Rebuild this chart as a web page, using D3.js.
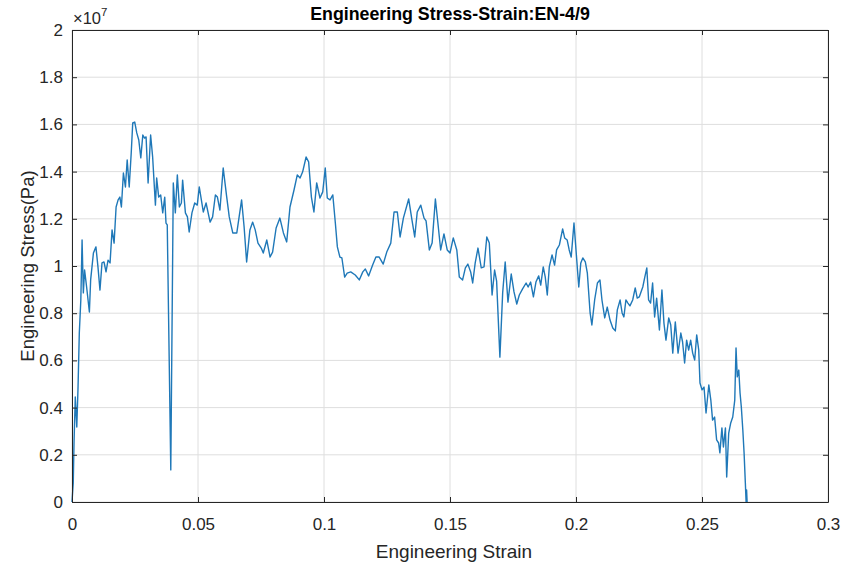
<!DOCTYPE html>
<html>
<head>
<meta charset="utf-8">
<script src="https://cdn.jsdelivr.net/npm/d3@7"></script>
<style>
  html, body { margin: 0; padding: 0; background: #ffffff; }
  svg { display: block; font-family: "Liberation Sans", Arial, Helvetica, sans-serif; }
</style>
</head>
<body>
<svg id="chart" width="857" height="566"></svg>
<script>
// Engineering strain (dimensionless)
const strain = [
  0, 0.0005, 0.0008, 0.0013, 0.0019, 0.0024, 0.0029, 0.0035, 0.0040, 0.0045,
  0.0050, 0.0058, 0.0069, 0.0074, 0.0085, 0.0095, 0.0103, 0.0111, 0.0119, 0.0127,
  0.0135, 0.0143, 0.0151, 0.0159, 0.0167, 0.0175, 0.0183, 0.0190, 0.0196, 0.0204,
  0.0212, 0.0219, 0.0227, 0.0235, 0.0241, 0.0249, 0.0257, 0.0265, 0.0273, 0.0281,
  0.0288, 0.0294, 0.0302, 0.0312, 0.0320, 0.0331, 0.0336, 0.0344, 0.0352, 0.0360,
  0.0368, 0.0373, 0.0378, 0.0392, 0.0402, 0.0410, 0.0418, 0.0426, 0.0434, 0.0439,
  0.0450, 0.0458, 0.0465, 0.0476, 0.0487, 0.0497, 0.0505, 0.0521, 0.0532, 0.0548,
  0.0558, 0.0569, 0.0577, 0.0587, 0.0600, 0.0614, 0.0624, 0.0638, 0.0654, 0.0673,
  0.0683, 0.0693, 0.0706, 0.0717, 0.0727, 0.0738, 0.0751, 0.0759, 0.0773, 0.0786,
  0.0796, 0.0810, 0.0825, 0.0839, 0.0852, 0.0865, 0.0881, 0.0894, 0.0905, 0.0915,
  0.0929, 0.0939, 0.0950, 0.0960, 0.0971, 0.0984, 0.0995, 0.1005, 0.1013, 0.1024,
  0.1035, 0.1045, 0.1053, 0.1063, 0.1071, 0.1082, 0.1092, 0.1106, 0.1124, 0.1140,
  0.1154, 0.1164, 0.1177, 0.1193, 0.1206, 0.1219, 0.1235, 0.1249, 0.1265, 0.1278,
  0.1291, 0.1302, 0.1315, 0.1336, 0.1349, 0.1360, 0.1370, 0.1384, 0.1397, 0.1405,
  0.1418, 0.1429, 0.1442, 0.1452, 0.1463, 0.1476, 0.1489, 0.1500, 0.1513, 0.1527,
  0.1537, 0.1550, 0.1561, 0.1571, 0.1582, 0.1590, 0.1600, 0.1611, 0.1624, 0.1635,
  0.1646, 0.1656, 0.1667, 0.1677, 0.1685, 0.1698, 0.1709, 0.1719, 0.1730, 0.1743,
  0.1754, 0.1765, 0.1775, 0.1788, 0.1802, 0.1810, 0.1820, 0.1831, 0.1841, 0.1852,
  0.1860, 0.1870, 0.1878, 0.1886, 0.1894, 0.1905, 0.1915, 0.1923, 0.1934, 0.1947,
  0.1955, 0.1965, 0.1973, 0.1981, 0.1992, 0.2000, 0.2011, 0.2019, 0.2027, 0.2037,
  0.2045, 0.2056, 0.2063, 0.2074, 0.2085, 0.2095, 0.2103, 0.2114, 0.2124, 0.2135,
  0.2146, 0.2156, 0.2164, 0.2175, 0.2183, 0.2190, 0.2198, 0.2206, 0.2214, 0.2225,
  0.2235, 0.2243, 0.2251, 0.2265, 0.2273, 0.2281, 0.2288, 0.2296, 0.2304, 0.2312,
  0.2320, 0.2331, 0.2341, 0.2349, 0.2357, 0.2368, 0.2376, 0.2384, 0.2394, 0.2405,
  0.2416, 0.2423, 0.2431, 0.2439, 0.2447, 0.2455, 0.2463, 0.2471, 0.2479, 0.2487,
  0.2492, 0.2500, 0.2508, 0.2516, 0.2527, 0.2535, 0.2542, 0.2550, 0.2558, 0.2566,
  0.2571, 0.2579, 0.2585, 0.2593, 0.2598, 0.2606, 0.2614, 0.2622, 0.2630, 0.2635,
  0.2640, 0.2646, 0.2651, 0.2656, 0.2662, 0.2667, 0.2672, 0.2675, 0.2677, 0.2679
];

// Engineering stress in MPa (plotted in Pa)
const stressMPa = [
  0, 0.81, 2.50, 4.45, 3.18, 4.87, 7.16, 8.56, 11.10, 8.86,
  9.83, 9.11, 8.05, 9.41, 10.55, 10.81, 9.96, 8.98, 10.13, 10.17,
  9.75, 10.25, 10.13, 11.53, 10.97, 12.50, 12.80, 12.92, 12.50, 13.94,
  13.35, 14.49, 13.35, 14.79, 16.06, 16.10, 15.64, 15.34, 14.58, 15.55,
  15.42, 15.47, 13.52, 15.55, 14.62, 12.58, 13.73, 12.92, 13.01, 12.25,
  12.92, 11.82, 11.74, 1.36, 13.52, 12.25, 13.86, 12.50, 12.67, 13.64,
  12.25, 12.08, 11.44, 12.25, 12.67, 12.58, 13.35, 12.29, 12.67, 11.86,
  12.08, 13.01, 12.92, 12.37, 14.15, 12.92, 12.08, 11.40, 11.40, 12.80,
  11.65, 10.17, 11.53, 11.86, 11.53, 10.97, 10.76, 10.55, 11.10, 10.38,
  10.59, 11.61, 12.03, 11.40, 11.02, 12.50, 13.22, 13.86, 13.73, 13.98,
  14.62, 14.41, 12.92, 12.29, 13.52, 12.88, 13.14, 14.15, 12.88, 12.80,
  13.01, 11.82, 10.81, 10.38, 10.34, 9.53, 9.70, 9.75, 9.62, 9.41,
  9.75, 9.87, 9.58, 10.04, 10.38, 10.38, 10.08, 10.59, 10.97, 12.29,
  12.29, 11.23, 12.03, 12.84, 11.95, 11.23, 12.29, 12.58, 12.03, 11.91,
  10.68, 10.97, 12.84, 11.82, 10.68, 11.36, 10.68, 10.55, 11.19, 10.68,
  9.53, 9.41, 9.92, 10.08, 9.75, 9.28, 10.13, 10.76, 9.92, 9.96,
  11.23, 10.97, 8.77, 9.83, 9.36, 6.14, 8.86, 10.17, 8.47, 9.66,
  8.90, 8.39, 8.77, 9.03, 9.28, 9.11, 9.32, 8.69, 9.32, 9.58,
  9.19, 9.96, 9.53, 8.77, 9.96, 10.47, 10.04, 10.68, 10.89, 11.57,
  11.19, 11.10, 10.68, 10.38, 11.82, 10.68, 9.11, 10.13, 10.34, 10.17,
  9.70, 8.01, 7.50, 8.56, 9.28, 9.41, 8.56, 7.80, 8.26, 7.71,
  7.37, 7.25, 8.14, 8.56, 8.01, 7.84, 8.56, 8.43, 8.31, 8.56,
  9.07, 8.64, 8.69, 9.11, 9.53, 9.92, 8.56, 8.43, 9.28, 7.84,
  8.64, 7.29, 8.98, 7.58, 6.86, 7.80, 7.50, 6.31, 7.63, 6.31,
  7.16, 6.78, 5.89, 6.86, 6.44, 6.86, 6.31, 6.02, 7.08, 6.44,
  5.04, 4.75, 4.87, 3.77, 4.96, 4.32, 3.47, 3.60, 2.63, 2.50,
  2.08, 3.14, 2.33, 3.14, 1.06, 2.92, 3.35, 3.60, 4.32, 6.53,
  5.30, 5.59, 4.62, 4.03, 3.05, 2.08, 0.81, 0, 0.51, 0
];

const xTicks = [0, 0.05, 0.1, 0.15, 0.2, 0.25, 0.3];
const yTicks = [0, 0.2e7, 0.4e7, 0.6e7, 0.8e7, 1.0e7, 1.2e7, 1.4e7, 1.6e7, 1.8e7, 2.0e7];

const titleText = "Engineering Stress-Strain:EN-4/9";
const xLabelText = "Engineering Strain";
const yLabelText = "Engineering Stress(Pa)";

const points = strain.map((s, i) => ({ strain: s, stress: stressMPa[i] * 1e6 }));

const svg = d3.select("#chart");
const plotLeft = 72, plotRight = 828, plotTop = 30, plotBottom = 502;

const x = d3.scaleLinear().domain([0, 0.3]).range([plotLeft, plotRight]);
const y = d3.scaleLinear().domain([0, 2e7]).range([plotBottom, plotTop]);

const axisColor = "#262626";
const gridColor = "#dedede";
const fontSize = 17;

// grid
const grid = svg.append("g");
grid.selectAll("line.gx").data(xTicks).join("line")
  .attr("x1", d => x(d)).attr("x2", d => x(d))
  .attr("y1", plotTop).attr("y2", plotBottom)
  .attr("stroke", gridColor).attr("stroke-width", 1);
grid.selectAll("line.gy").data(yTicks).join("line")
  .attr("x1", plotLeft).attr("x2", plotRight)
  .attr("y1", d => y(d)).attr("y2", d => y(d))
  .attr("stroke", gridColor).attr("stroke-width", 1);

// data line
const line = d3.line().x(d => x(d.strain)).y(d => y(d.stress));
svg.append("path")
  .datum(points)
  .attr("d", line)
  .attr("fill", "none")
  .attr("stroke", "#1f78b8")
  .attr("stroke-width", 1.4)
  .attr("stroke-linejoin", "round");

// axes with inward ticks
const fmtX = d => d3.format("~g")(d);
const fmtY = d => d3.format("~g")(+(d / 1e7).toFixed(2));

const xAxis = svg.append("g").attr("transform", `translate(0,${plotBottom})`)
  .call(d3.axisBottom(x).tickValues(xTicks).tickFormat(fmtX).tickSizeInner(-5).tickSizeOuter(0).tickPadding(16));
const xAxisTop = svg.append("g").attr("transform", `translate(0,${plotTop})`)
  .call(d3.axisTop(x).tickValues(xTicks).tickFormat("").tickSizeInner(-5).tickSizeOuter(0));
const yAxis = svg.append("g").attr("transform", `translate(${plotLeft},0)`)
  .call(d3.axisLeft(y).tickValues(yTicks).tickFormat(fmtY).tickSizeInner(-5).tickSizeOuter(0).tickPadding(9));
const yAxisRight = svg.append("g").attr("transform", `translate(${plotRight},0)`)
  .call(d3.axisRight(y).tickValues(yTicks).tickFormat("").tickSizeInner(-5).tickSizeOuter(0));

[xAxis, xAxisTop, yAxis, yAxisRight].forEach(g => {
  g.select(".domain").attr("stroke", axisColor).attr("stroke-width", 1);
  g.selectAll(".tick line").attr("stroke", axisColor).attr("stroke-width", 1);
  g.selectAll(".tick text")
    .attr("fill", axisColor)
    .style("font-family", "'Liberation Sans', Arial, Helvetica, sans-serif")
    .style("font-size", fontSize + "px");
});

// exponent marker
const expo = svg.append("text")
  .attr("x", plotLeft + 1).attr("y", 24)
  .attr("fill", axisColor)
  .style("font-size", "16.5px");
expo.append("tspan").text("\u00d710");
expo.append("tspan").attr("dy", -8).style("font-size", "11.5px").text("7");

// title
svg.append("text")
  .attr("x", 450).attr("y", 20)
  .attr("text-anchor", "middle")
  .attr("fill", "#000")
  .style("font-size", "17.8px")
  .style("font-weight", "bold")
  .text(titleText);

// axis labels
svg.append("text")
  .attr("x", 454).attr("y", 558)
  .attr("text-anchor", "middle")
  .attr("fill", axisColor)
  .style("font-size", "19px")
  .text(xLabelText);

svg.append("text")
  .attr("transform", `translate(34,${(plotTop + plotBottom) / 2}) rotate(-90)`)
  .attr("text-anchor", "middle")
  .attr("fill", axisColor)
  .style("font-size", "18.5px")
  .text(yLabelText);
</script>
</body>
</html>
